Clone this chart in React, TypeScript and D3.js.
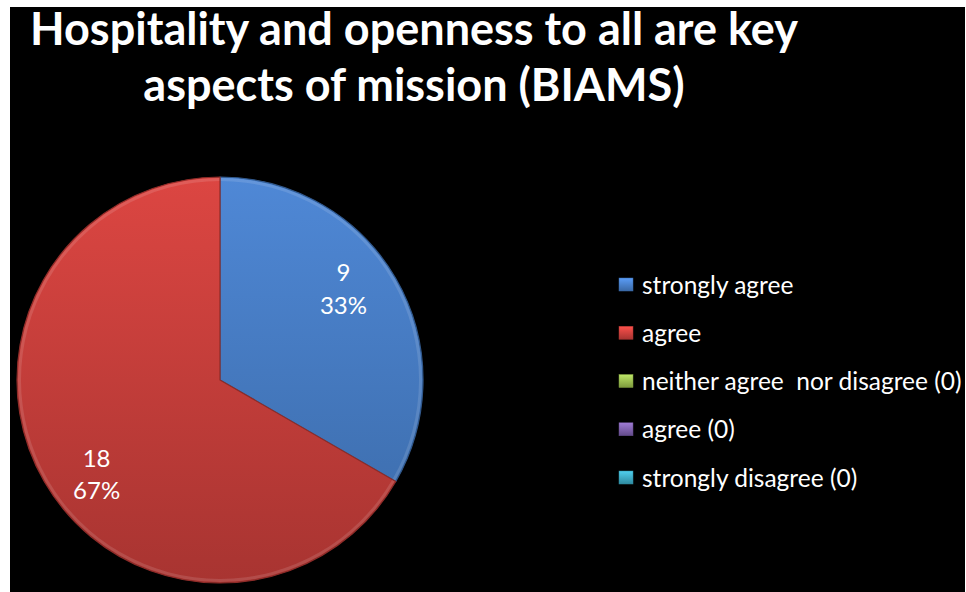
import React from "react";
import * as d3 from "d3";

const titleLines = ["Hospitality and openness to all are key", "aspects of mission (BIAMS)"];
const categories = ["strongly agree", "agree", "neither agree  nor disagree (0)", "agree (0)", "strongly disagree (0)"];
const values = [9, 18, 0, 0, 0];
const colorsTop = ["#4f88d6", "#dc4642", "#a5c85a", "#8a6bb8", "#45b4cf"];
const colorsBottom = ["#3a69a6", "#a83431", "#7d9a3c", "#634b8a", "#2f8aa0"];

const W = 966;
const H = 592;
const cx = 220;
const cy = 380;
const R = 203;
const labelRadius = R * 0.76;
const labelAngleShift = -0.12;

export default function App() {
  const total = d3.sum(values);
  const pie = d3.pie<number>().sort(null).value((d) => d);
  const arcs = pie(values);
  const arcGen = d3.arc<d3.PieArcDatum<number>>().innerRadius(0).outerRadius(R);
  const rimGen = d3.arc<d3.PieArcDatum<number>>().innerRadius(R - 4).outerRadius(R - 1);
  const font = "Lato, 'Open Sans', sans-serif";
  const legendY = d3.scaleLinear().domain([0, 4]).range([285, 478]);

  return (
    <svg width={W} height={H} style={{ position: "absolute", left: 0, top: 0 }}>
      <defs>
        {colorsTop.map((c, i) => (
          <linearGradient key={i} id={`g${i}`} gradientUnits="userSpaceOnUse" x1="0" y1={-R} x2="0" y2={R}>
            <stop offset="0%" stopColor={c} />
            <stop offset="100%" stopColor={colorsBottom[i]} />
          </linearGradient>
        ))}
        {colorsTop.map((c, i) => (
          <linearGradient key={`s${i}`} id={`sq${i}`} x1="0" y1="0" x2="0" y2="1">
            <stop offset="0%" stopColor={d3.color(c)!.brighter(0.4).toString()} />
            <stop offset="100%" stopColor={colorsBottom[i]} />
          </linearGradient>
        ))}
      </defs>
      <rect x={0} y={0} width={W} height={H} fill="#ffffff" />
      <rect x={10} y={7} width={955} height={H - 7} fill="#000000" />
      {titleLines.map((t, i) => (
        <text key={i} x={414} y={45 + i * 56} textAnchor="middle" fill="#ffffff" fontFamily={font} fontWeight={700} fontSize={45}>
          {t}
        </text>
      ))}
      <g transform={`translate(${cx},${cy})`}>
        {arcs.map((a, i) =>
          a.value > 0 ? (
            <g key={i}>
              <path d={arcGen(a)!} fill={`url(#g${i})`} />
              <path d={rimGen(a)!} fill="#ffffff" opacity={0.12} />
              <path d={arcGen(a)!} fill="none" stroke={d3.color(colorsBottom[i])!.darker(0.5).toString()} strokeWidth={1.2} strokeLinejoin="round" />
            </g>
          ) : null
        )}
        {arcs.map((a, i) => {
          if (a.value <= 0) return null;
          const ang = (a.startAngle + a.endAngle) / 2 + labelAngleShift;
          const lx = Math.sin(ang) * labelRadius;
          const ly = -Math.cos(ang) * labelRadius;
          return (
            <text key={`l${i}`} x={lx} y={ly} textAnchor="middle" fill="#ffffff" fontFamily={font} fontSize={24}>
              <tspan x={lx} dy="-0.25em">{a.value}</tspan>
              <tspan x={lx} dy="1.35em">{`${Math.round((a.value / total) * 100)}%`}</tspan>
            </text>
          );
        })}
      </g>
      {categories.map((c, i) => (
        <g key={i} transform={`translate(619,${legendY(i)})`}>
          <rect x={0} y={-7} width={14} height={13} fill={`url(#sq${i})`} stroke={colorsBottom[i]} strokeWidth={0.5} />
          <text x={23} y={0} dy="0.35em" fill="#ffffff" fontFamily={font} fontSize={24.5} style={{ whiteSpace: "pre" }}>
            {c}
          </text>
        </g>
      ))}
    </svg>
  );
}
